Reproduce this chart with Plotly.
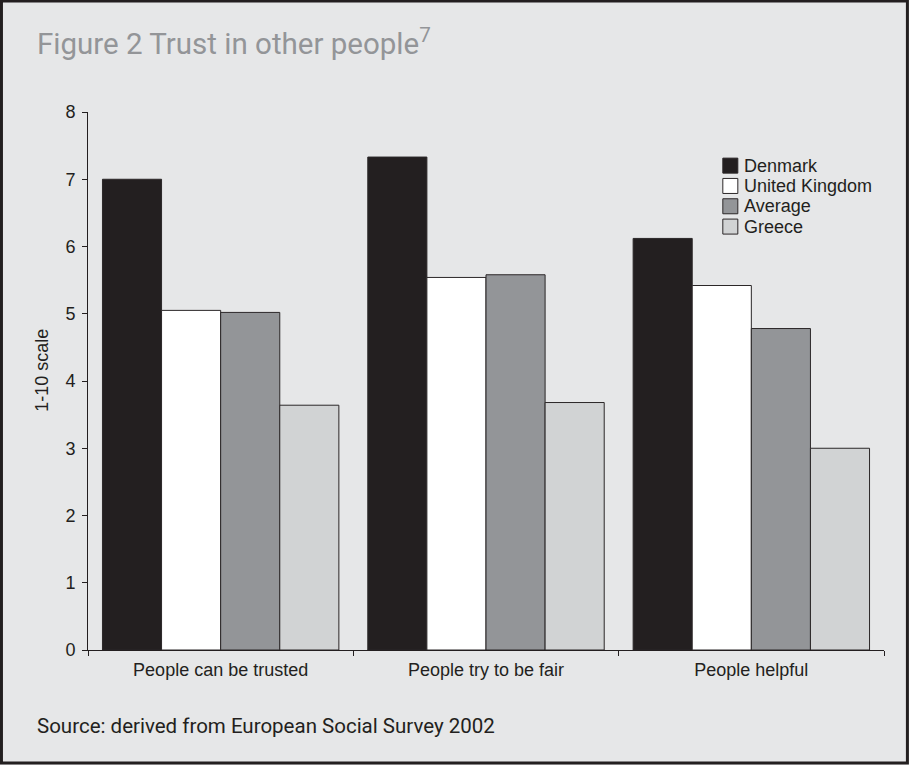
import plotly.graph_objects as go

# Survey measures (1-10 scale) by country
categories = ["People can be trusted", "People try to be fair", "People helpful"]
countries = ["Denmark", "United Kingdom", "Average", "Greece"]
denmark = [7.0, 7.33, 6.12]
united_kingdom = [5.05, 5.54, 5.42]
average = [5.02, 5.58, 4.78]
greece = [3.64, 3.68, 3.0]
y_ticks = [0, 1, 2, 3, 4, 5, 6, 7, 8]

series = [denmark, united_kingdom, average, greece]
fills = ["#231f20", "#ffffff", "#939598", "#d1d3d4"]
edge = "#2b2728"
bg = "#e6e7e8"

W, H = 909, 765
L, R, T, B = 88, 883.6, 112.4, 650


def px_x(x):
    return (x - L) / (R - L)


def px_y(y):
    return (B - y) / (B - T)


fig = go.Figure()
for name, vals, col in zip(countries, series, fills):
    fig.add_trace(go.Bar(
        x=categories, y=vals, name=name,
        marker=dict(color=col, line=dict(color=edge, width=1)),
        showlegend=False,
    ))

tick_font = dict(family="Liberation Sans, Arial, Helvetica, sans-serif", size=18, color="#231f20")
head_font = "Roboto, sans-serif"

shapes = []
annotations = []

# Legend: swatches and labels
for i, (name, col) in enumerate(zip(countries, fills)):
    top = 158.5 + i * 20.3
    shapes.append(dict(
        type="rect", xref="paper", yref="paper",
        x0=px_x(722.5), x1=px_x(737.5), y0=px_y(top), y1=px_y(top + 15),
        fillcolor=col, line=dict(color=edge, width=1),
    ))
    annotations.append(dict(
        xref="paper", yref="paper", x=px_x(742), y=px_y(top + 7.5),
        xanchor="left", yanchor="middle", text=name, showarrow=False,
        font=tick_font,
    ))

# Outer frame
shapes.append(dict(
    type="rect", xref="paper", yref="paper",
    x0=px_x(1.5), x1=px_x(W - 2), y0=px_y(H - 2), y1=px_y(1.5),
    line=dict(color="#231f20", width=3), fillcolor="rgba(0,0,0,0)", layer="below",
))

# Title, source note and y-axis label
annotations.append(dict(
    xref="paper", yref="paper", x=px_x(35), y=px_y(42),
    xanchor="left", yanchor="middle", showarrow=False,
    text="Figure 2 Trust in other people<sup>7</sup>",
    font=dict(family=head_font, size=29.5, color="#939598"),
))
annotations.append(dict(
    xref="paper", yref="paper", x=px_x(35), y=px_y(726),
    xanchor="left", yanchor="middle", showarrow=False,
    text="Source: derived from European Social Survey 2002",
    font=dict(family=head_font, size=20.5, color="#231f20"),
))
annotations.append(dict(
    xref="paper", yref="paper", x=px_x(42), y=px_y(370),
    xanchor="center", yanchor="middle", showarrow=False, textangle=-90,
    text="1-10 scale", font=tick_font,
))

fig.update_layout(
    width=W, height=H,
    margin=dict(l=L, r=W - R, t=T, b=H - B, pad=0),
    paper_bgcolor=bg, plot_bgcolor=bg,
    barmode="group", bargap=0.109, bargroupgap=0,
    shapes=shapes, annotations=annotations,
    font=tick_font,
)
fig.update_xaxes(
    type="category", range=[-0.5, 2.5], tickson="boundaries",
    ticks="outside", ticklen=5, tickcolor="#231f20", tickwidth=1,
    showline=True, linecolor="#231f20", linewidth=1,
    showgrid=False, zeroline=False, tickfont=tick_font,
    ticklabelstandoff=3,
)
fig.update_yaxes(
    range=[0, 8], tickvals=y_ticks, ticks="outside", ticklen=5,
    tickcolor="#231f20", tickwidth=1,
    showline=True, linecolor="#231f20", linewidth=1,
    showgrid=False, zeroline=False, tickfont=tick_font,
    ticklabelstandoff=3,
)

fig.write_html("out.html")
